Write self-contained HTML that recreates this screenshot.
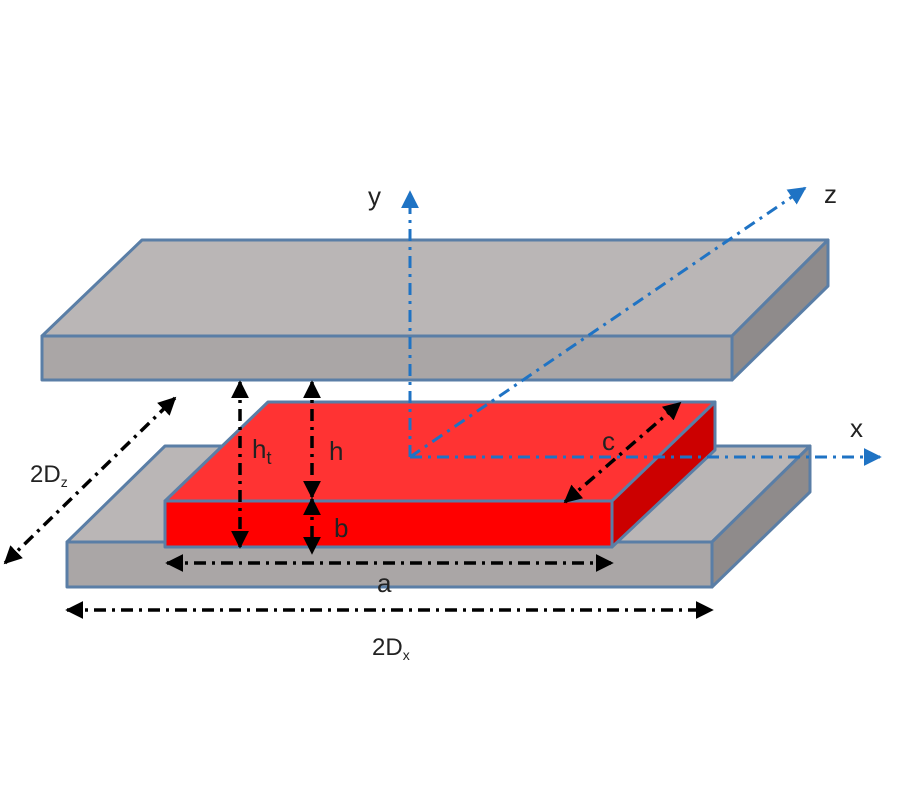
<!DOCTYPE html>
<html><head><style>
body{margin:0;background:#fff;}
svg text{font-family:"Liberation Sans","DejaVu Sans",sans-serif;fill:#222;}
</style></head><body>
<svg width="900" height="800" viewBox="0 0 900 800" xmlns="http://www.w3.org/2000/svg">
<defs>
<marker id="ab" markerWidth="8" markerHeight="8" refX="6" refY="4" orient="auto" markerUnits="userSpaceOnUse" viewBox="0 0 8 8"><path d="M0,0 L8,4 L0,8 z" fill="#000"/></marker>
<marker id="abl" markerWidth="8" markerHeight="8" refX="6" refY="4" orient="auto" viewBox="0 0 8 8"><path d="M0,0 L8,4 L0,8 z" fill="#1f73c4"/></marker>
<marker id="k" viewBox="0 0 10 10" refX="9" refY="5" markerWidth="18" markerHeight="18" markerUnits="userSpaceOnUse" orient="auto-start-reverse"><path d="M0,0 L10,5 L0,10 z" fill="#000"/></marker>
<marker id="b" viewBox="0 0 10 10" refX="9" refY="5" markerWidth="18" markerHeight="18" markerUnits="userSpaceOnUse" orient="auto"><path d="M0,0 L10,5 L0,10 z" fill="#1f73c4"/></marker>
</defs>
<g stroke="#5a7ea6" stroke-width="3" stroke-linejoin="round">
<!-- bottom plate -->
<polygon points="67,542 165,446 810,446 712,542" fill="#bab6b6"/>
<polygon points="712,542 810,446 810,492 712,587" fill="#8f8b8b"/>
<rect x="67" y="542" width="645" height="45" fill="#aaa6a6"/>
<!-- red block -->
<polygon points="165,501 268,402 715,402 612,501" fill="#ff3333"/>
<polygon points="612,501 715,402 715,450 612,547" fill="#cc0000"/>
<rect x="165" y="501" width="447" height="46" fill="#ff0000"/>
<!-- top plate -->
<polygon points="42,336 142,240 828,240 732,336" fill="#bab6b6"/>
<polygon points="732,336 828,240 828,286 732,380" fill="#8f8b8b"/>
<rect x="42" y="336" width="690" height="44" fill="#aaa6a6"/>
</g>
<!-- axes -->
<g stroke="#1f73c4" stroke-width="3" fill="none" stroke-dasharray="12,6,3,6">
<line x1="410" y1="457" x2="410" y2="192" marker-end="url(#b)"/>
<line x1="410" y1="457" x2="880" y2="457" marker-end="url(#b)"/>
<line x1="410" y1="457" x2="805" y2="188" marker-end="url(#b)"/>
</g>
<!-- dims -->
<g stroke="#000" stroke-width="3.5" fill="none" stroke-dasharray="12,6,3,6">
<line x1="240" y1="382" x2="240" y2="547" marker-start="url(#k)" marker-end="url(#k)"/>
<line x1="312" y1="382" x2="312" y2="497" marker-start="url(#k)" marker-end="url(#k)"/>
<line x1="312" y1="499" x2="312" y2="553" marker-start="url(#k)" marker-end="url(#k)"/>
<line x1="167" y1="563" x2="612" y2="563" marker-start="url(#k)" marker-end="url(#k)"/>
<line x1="67" y1="610" x2="712" y2="610" marker-start="url(#k)" marker-end="url(#k)"/>
<line x1="565" y1="502" x2="680" y2="403" marker-start="url(#k)" marker-end="url(#k)"/>
<line x1="5" y1="563" x2="175" y2="398" marker-start="url(#k)" marker-end="url(#k)"/>
</g>
<text x="368" y="205" font-size="26">y</text>
<text x="824" y="203" font-size="26">z</text>
<text x="850" y="437" font-size="26">x</text>
<text x="602" y="450" font-size="26">c</text>
<text x="252" y="458" font-size="26">h<tspan font-size="18" dy="6">t</tspan></text>
<text x="329" y="460" font-size="26">h</text>
<text x="334" y="537" font-size="26">b</text>
<text x="377" y="592" font-size="26">a</text>
<text x="372" y="655" font-size="24">2D<tspan font-size="14" dy="5">x</tspan></text>
<text x="30" y="482" font-size="24">2D<tspan font-size="14" dy="5">z</tspan></text>
</svg>
</body></html>
